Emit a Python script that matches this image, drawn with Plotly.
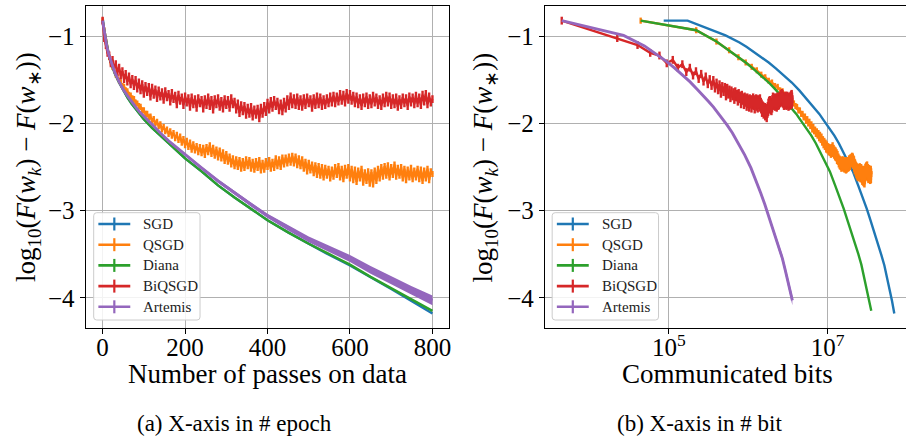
import plotly.graph_objects as go
import numpy as np

W, H = 909, 442

NAMES = ["SGD", "QSGD", "Diana", "BiQSGD", "Artemis"]
COLORS = ["#1f77b4", "#ff7f0e", "#2ca02c", "#d62728", "#9467bd"]
# bits sent per pass on the data, used for the "communicated bits" axis
BITS_PER_PASS = [86300, 44260, 44260, 4490, 4490]

# ---- smooth runs (log10 excess loss) ----
SGD_EPOCHS = [0, 1, 5, 8, 10, 15, 20, 25, 30, 40, 50, 60, 70, 80, 90, 100, 120, 140,
              160, 180, 200, 240, 280, 320, 360, 400, 450, 500, 550, 600, 650, 700, 750, 800]
SGD_LOSS = [-0.82, -0.82, -0.99, -1.07, -1.12, -1.22, -1.30, -1.37, -1.43, -1.53, -1.62,
            -1.70, -1.77, -1.83, -1.89, -1.95, -2.05, -2.14, -2.23, -2.32, -2.40, -2.55,
            -2.71, -2.85, -2.98, -3.11, -3.25, -3.38, -3.51, -3.63, -3.77, -3.90, -4.04, -4.18]

DIANA_EPOCHS = [0, 4, 8, 12, 16, 20, 25, 30, 40, 50, 60, 70, 80, 90, 100, 120, 140,
                160, 180, 200, 240, 280, 320, 360, 400, 450, 500, 550, 600, 650, 700, 750, 800]
DIANA_LOSS = [-0.82, -0.93, -1.06, -1.16, -1.24, -1.30, -1.37, -1.43, -1.53, -1.62,
              -1.70, -1.77, -1.83, -1.89, -1.95, -2.05, -2.14, -2.23, -2.32, -2.40, -2.55,
              -2.71, -2.85, -2.98, -3.11, -3.25, -3.38, -3.50, -3.62, -3.76, -3.89, -4.02, -4.15]

ARTEMIS_EPOCHS = [0, 5, 10, 15, 20, 25, 30, 40, 50, 60, 70, 80, 90, 100, 120, 140, 160,
                  180, 200, 240, 280, 320, 360, 400, 450, 500, 550, 600, 650, 700, 750, 800]
ARTEMIS_LOSS = [-0.82, -0.99, -1.11, -1.21, -1.29, -1.36, -1.42, -1.52, -1.61, -1.68, -1.75,
                -1.81, -1.87, -1.92, -2.02, -2.11, -2.20, -2.28, -2.36, -2.51, -2.66, -2.80,
                -2.93, -3.06, -3.20, -3.33, -3.44, -3.55, -3.68, -3.80, -3.92, -4.03]
ARTEMIS_STD = [0.0, 0.004, 0.005, 0.006, 0.006, 0.007, 0.007, 0.008, 0.008, 0.009, 0.009,
               0.010, 0.010, 0.010, 0.011, 0.012, 0.013, 0.014, 0.015, 0.017, 0.019, 0.021,
               0.023, 0.025, 0.029, 0.032, 0.036, 0.040, 0.044, 0.047, 0.051, 0.055]

# ---- noisy runs, recorded every 4 passes ----
NOISY_EPOCHS = list(range(0, 801, 4))

QSGD_LOSS = [
    -0.82, -0.93, -1.06, -1.16, -1.24, -1.30, -1.35, -1.39, -1.44, -1.47,
    -1.51, -1.53, -1.57, -1.58, -1.62, -1.63, -1.67, -1.68, -1.71, -1.72,
    -1.76, -1.77, -1.80, -1.81, -1.85, -1.85, -1.89, -1.89, -1.93, -1.92,
    -1.97, -1.95, -2.00, -1.98, -2.03, -2.01, -2.07, -2.04, -2.09, -2.07,
    -2.12, -2.09, -2.14, -2.11, -2.17, -2.13, -2.19, -2.15, -2.22, -2.18,
    -2.25, -2.20, -2.27, -2.22, -2.30, -2.24, -2.31, -2.26, -2.33, -2.27,
    -2.34, -2.28, -2.36, -2.27, -2.33, -2.25, -2.35, -2.28, -2.37, -2.30,
    -2.39, -2.31, -2.40, -2.33, -2.43, -2.35, -2.44, -2.38, -2.47, -2.40,
    -2.49, -2.41, -2.50, -2.42, -2.52, -2.43, -2.51, -2.41, -2.49, -2.42,
    -2.52, -2.44, -2.53, -2.43, -2.51, -2.42, -2.54, -2.45, -2.53, -2.43,
    -2.50, -2.42, -2.52, -2.44, -2.51, -2.40, -2.49, -2.41, -2.50, -2.39,
    -2.47, -2.39, -2.46, -2.38, -2.45, -2.37, -2.46, -2.38, -2.48, -2.40,
    -2.49, -2.41, -2.52, -2.44, -2.55, -2.45, -2.54, -2.47, -2.57, -2.48,
    -2.59, -2.49, -2.60, -2.50, -2.62, -2.51, -2.60, -2.52, -2.63, -2.53,
    -2.61, -2.50, -2.59, -2.49, -2.62, -2.52, -2.64, -2.51, -2.60, -2.50,
    -2.63, -2.52, -2.65, -2.53, -2.67, -2.54, -2.63, -2.52, -2.68, -2.56,
    -2.66, -2.55, -2.69, -2.56, -2.70, -2.54, -2.66, -2.52, -2.63, -2.50,
    -2.61, -2.49, -2.60, -2.48, -2.62, -2.50, -2.59, -2.47, -2.61, -2.51,
    -2.60, -2.50, -2.63, -2.52, -2.65, -2.53, -2.62, -2.51, -2.64, -2.54,
    -2.62, -2.52, -2.64, -2.53, -2.66, -2.54, -2.63, -2.52, -2.65, -2.55,
    -2.58,
]
QSGD_STD = 0.035

BIQSGD_LOSS = [
    -0.82, -1.02, -1.10, -1.19, -1.22, -1.31, -1.27, -1.36, -1.32, -1.41,
    -1.36, -1.45, -1.40, -1.49, -1.43, -1.52, -1.46, -1.55, -1.49, -1.57,
    -1.50, -1.60, -1.53, -1.62, -1.55, -1.66, -1.57, -1.64, -1.58, -1.69,
    -1.59, -1.67, -1.61, -1.71, -1.62, -1.69, -1.64, -1.73, -1.63, -1.70,
    -1.66, -1.75, -1.65, -1.72, -1.68, -1.78, -1.67, -1.74, -1.70, -1.79,
    -1.69, -1.76, -1.71, -1.81, -1.70, -1.78, -1.72, -1.82, -1.71, -1.77,
    -1.73, -1.83, -1.72, -1.79, -1.70, -1.80, -1.73, -1.84, -1.72, -1.78,
    -1.71, -1.81, -1.74, -1.83, -1.72, -1.79, -1.73, -1.82, -1.71, -1.78,
    -1.75, -1.84, -1.77, -1.88, -1.79, -1.86, -1.80, -1.90, -1.82, -1.89,
    -1.81, -1.92, -1.84, -1.90, -1.83, -1.94, -1.82, -1.89, -1.80, -1.87,
    -1.76, -1.84, -1.74, -1.82, -1.73, -1.80, -1.75, -1.85, -1.77, -1.86,
    -1.75, -1.83, -1.72, -1.80, -1.69, -1.78, -1.71, -1.79, -1.70, -1.80,
    -1.72, -1.81, -1.71, -1.79, -1.70, -1.77, -1.72, -1.82, -1.71, -1.79,
    -1.69, -1.78, -1.70, -1.80, -1.72, -1.79, -1.71, -1.77, -1.69, -1.76,
    -1.68, -1.77, -1.69, -1.75, -1.66, -1.74, -1.67, -1.76, -1.65, -1.73,
    -1.66, -1.74, -1.68, -1.77, -1.69, -1.78, -1.71, -1.80, -1.70, -1.77,
    -1.69, -1.79, -1.71, -1.78, -1.68, -1.76, -1.70, -1.79, -1.72, -1.80,
    -1.70, -1.77, -1.68, -1.76, -1.69, -1.79, -1.71, -1.78, -1.70, -1.81,
    -1.72, -1.79, -1.70, -1.77, -1.71, -1.80, -1.69, -1.76, -1.70, -1.78,
    -1.68, -1.77, -1.70, -1.79, -1.67, -1.75, -1.66, -1.78, -1.69, -1.76,
    -1.72,
]
BIQSGD_STD = 0.045

X_TICKS = [0, 200, 400, 600, 800]
Y_TICKS = [-4, -3, -2, -1]
BIT_TICKS = [1e5, 1e7]
BIT_TICK_TEXT = ["10<sup>5</sup>", "10<sup>7</sup>"]

SERIF = "Liberation Serif, Times New Roman, Times, serif"


def px(x):
    return x / W


def py(y):
    return 1 - y / H


fig = go.Figure()

runs = [
    (SGD_EPOCHS, SGD_LOSS, None, None),
    (NOISY_EPOCHS, QSGD_LOSS, QSGD_STD, None),
    (DIANA_EPOCHS, DIANA_LOSS, None, None),
    (NOISY_EPOCHS, BIQSGD_LOSS, BIQSGD_STD, None),
    (ARTEMIS_EPOCHS, ARTEMIS_LOSS, None, ARTEMIS_STD),
]

for panel, (xa, ya) in enumerate([("x", "y"), ("x2", "y2")]):
    for i, (ep, loss, err, band) in enumerate(runs):
        ep = np.asarray(ep, dtype=float)
        loss = np.asarray(loss, dtype=float)
        x = ep if panel == 0 else BITS_PER_PASS[i] * (ep + 1)
        color = COLORS[i]
        width = 2.4
        if band is not None:
            band = np.asarray(band, dtype=float)
            fig.add_trace(go.Scatter(x=x, y=loss - band, mode="lines", line=dict(width=0, color=color),
                                     xaxis=xa, yaxis=ya, hoverinfo="skip"))
            fig.add_trace(go.Scatter(x=x, y=loss + band, mode="lines", line=dict(width=0, color=color),
                                     fill="tonexty", fillcolor=color, xaxis=xa, yaxis=ya, hoverinfo="skip"))
            width = 2.9
        kw = {}
        if err is not None:
            kw["error_y"] = dict(type="constant", value=err, color=color, thickness=2.4, width=0)
        fig.add_trace(go.Scatter(x=x, y=loss, mode="lines", name=NAMES[i],
                                 line=dict(color=color, width=width), xaxis=xa, yaxis=ya, **kw))

tick_font = dict(family=SERIF, size=25, color="black")
common = dict(showgrid=True, gridcolor="#b0b0b0", gridwidth=1, zeroline=False,
              showline=True, linecolor="black", linewidth=1.2,
              ticks="outside", ticklen=5, tickwidth=1, tickcolor="black", tickfont=tick_font)
y_dom = [py(328), py(6)]
y_range = [-4.347, -0.652]

fig.update_layout(
    width=W, height=H, margin=dict(l=0, r=0, t=0, b=0),
    plot_bgcolor="white", paper_bgcolor="white", showlegend=False,
    xaxis=dict(domain=[px(86), px(450)], range=[-41, 839], tickvals=X_TICKS,
               ticktext=[str(v) for v in X_TICKS], mirror=True, anchor="y",
               ticklabelstandoff=-8, **common),
    yaxis=dict(domain=y_dom, range=y_range, tickvals=Y_TICKS,
               ticktext=["\u2212" + str(-v) for v in Y_TICKS], mirror=True, anchor="x", **common),
    xaxis2=dict(domain=[px(546.7), 1.0], type="log", range=[3.44, 7.987], tickvals=BIT_TICKS,
                ticktext=BIT_TICK_TEXT, mirror=True, anchor="y2",
                ticklabelstandoff=-8, **common),
    yaxis2=dict(domain=y_dom, range=y_range, tickvals=Y_TICKS,
                ticktext=["\u2212" + str(-v) for v in Y_TICKS], mirror=False, anchor="x2", **common),
)

ylabel = "log<sub>10</sub>(<i>F</i>(<i>w</i><sub><i>k</i></sub>) \u2212 <i>F</i>(<i>w</i><sub>\u2217</sub>))"
annotations = [
    dict(x=px(28), y=py(167), text=ylabel, textangle=-90),
    dict(x=px(487), y=py(167), text=ylabel, textangle=-90),
    dict(x=px(268), y=py(374), text="Number of passes on data"),
    dict(x=px(730), y=py(374), text="Communicated bits"),
]
for a in annotations:
    a.update(xref="paper", yref="paper", showarrow=False, xanchor="center", yanchor="middle",
             font=dict(family=SERIF, size=27, color="black"))

captions = [
    dict(x=px(235), y=py(423), text="(a) X-axis in # epoch"),
    dict(x=px(702), y=py(423), text="(b) X-axis in # bit"),
]
for a in captions:
    a.update(xref="paper", yref="paper", showarrow=False, xanchor="center", yanchor="middle",
             font=dict(family=SERIF, size=23, color="black"))
annotations += captions

shapes = []


def rounded_box(x0, y0, x1, y1, r=3):
    pts = (f"M {px(x0 + r)},{py(y0)} L {px(x1 - r)},{py(y0)} "
           f"Q {px(x1)},{py(y0)} {px(x1)},{py(y0 + r)} L {px(x1)},{py(y1 - r)} "
           f"Q {px(x1)},{py(y1)} {px(x1 - r)},{py(y1)} L {px(x0 + r)},{py(y1)} "
           f"Q {px(x0)},{py(y1)} {px(x0)},{py(y1 - r)} L {px(x0)},{py(y0 + r)} "
           f"Q {px(x0)},{py(y0)} {px(x0 + r)},{py(y0)} Z")
    return dict(type="path", path=pts, xref="paper", yref="paper",
                fillcolor="rgba(255,255,255,0.85)", line=dict(color="#cccccc", width=1), layer="above")


for off in (0, 460):
    shapes.append(rounded_box(94 + off, 212.7, 200.7 + off, 320))
    for i, name in enumerate(NAMES):
        yy = 224 + i * 20.7
        shapes.append(dict(type="line", xref="paper", yref="paper", x0=px(98.7 + off), x1=px(130.7 + off),
                           y0=py(yy), y1=py(yy), line=dict(color=COLORS[i], width=2.6), layer="above"))
        shapes.append(dict(type="line", xref="paper", yref="paper", x0=px(114.7 + off), x1=px(114.7 + off),
                           y0=py(yy - 6.5), y1=py(yy + 6.5), line=dict(color=COLORS[i], width=2.2), layer="above"))
        annotations.append(dict(x=px(141.7 + off), y=py(yy), text=name, xref="paper", yref="paper",
                                showarrow=False, xanchor="left", yanchor="middle",
                                font=dict(family=SERIF, size=15, color="#222222")))

fig.update_layout(shapes=shapes, annotations=annotations)
fig.write_html("out.html")
